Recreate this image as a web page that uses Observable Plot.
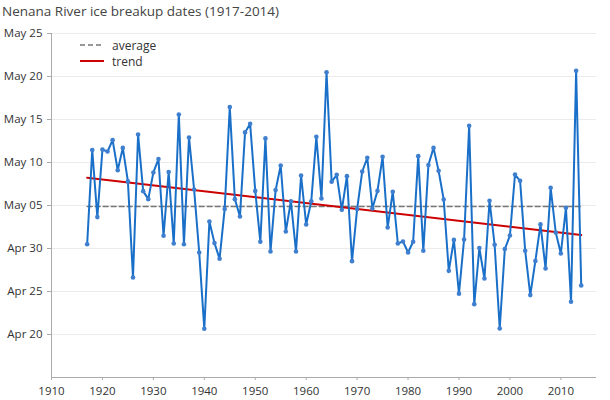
<!DOCTYPE html>
<html>
<head>
<meta charset="utf-8">
<script src="https://cdn.jsdelivr.net/npm/d3@7"></script>
<script src="https://cdn.jsdelivr.net/npm/@observablehq/plot@0.6"></script>
<style>
  html, body { margin: 0; padding: 0; background: #fff; }
  #wrap { position: relative; width: 610px; height: 400px; overflow: hidden; font-family: "Open Sans", sans-serif; }
  #title { height: 22px; line-height: 22px; padding-left: 2px; font-size: 13.5px; color: #444; white-space: nowrap; }
  #legend { position: absolute; left: 80px; top: 37px; font-size: 12px; color: #333; }
  #legend .row { display: flex; align-items: center; height: 16px; }
  #legend svg { margin-right: 8px; }
</style>
</head>
<body>
<div id="wrap">
  <div id="title">Nenana River ice breakup dates (1917-2014)</div>
  <div id="chart"></div>
  <div id="legend">
    <div class="row"><svg width="24" height="10"><line x1="0" x2="24" y1="5" y2="5" stroke="#777" stroke-width="1.5" stroke-dasharray="5,3"/></svg>average</div>
    <div class="row"><svg width="24" height="10"><line x1="0" x2="24" y1="5" y2="5" stroke="#cc0000" stroke-width="2"/></svg>trend</div>
  </div>
</div>
<script>
// Years of record
const years = d3.range(1917, 2015);
// Breakup time as days after April 30, 00:00 (negative = April)
const breakupDays = [
  0.5, 11.44, 3.65, 11.5, 11.28, 12.6, 9.1, 11.7, 7.8, -3.37,      // 1917-1926
  13.26, 6.67, 5.74, 8.84, 10.4, 1.48, 8.9, 0.58, 15.58, 0.5,      // 1927-1936
  12.9, 6.86, -0.46, -9.34, 3.14, 0.63, -1.2, 4.6, 16.44, 5.74,    // 1937-1946
  3.72, 13.5, 14.5, 6.7, 0.78, 12.8, -0.35, 6.79, 9.65, 1.98,      // 1947-1956
  5.5, -0.35, 8.49, 2.79, 5.5, 12.99, 5.81, 20.5, 7.76, 8.57,      // 1957-1966
  4.5, 8.41, -1.47, 4.58, 8.94, 10.55, 4.65, 6.7, 10.66, 2.44,     // 1967-1976
  6.6, 0.58, 0.82, -0.46, 0.78, 10.74, -0.27, 9.7, 11.7, 9.03,     // 1977-1986
  5.7, -2.6, 1.0, -5.25, 1.05, 14.27, -6.47, 0.05, -3.49, 5.55,    // 1987-1996
  0.43, -9.3, -0.07, 1.51, 8.6, 7.87, -0.27, -5.42, -1.45, 2.8,    // 1997-2006
  -2.33, 7.06, 1.86, -0.58, 4.73, -6.2, 20.66, -4.3                // 2007-2014
];
// Tick values
const yTicks = [-10, -5, 0, 5, 10, 15, 20, 25];
const xTicks = d3.range(1910, 2011, 10);

const data = years.map((year, i) => ({year, day: breakupDays[i]}));
const avg = d3.mean(breakupDays);
const base = Date.UTC(2000, 3, 30);
const fmt = d3.utcFormat("%b %d");
const dayLabel = d => fmt(new Date(base + d * 864e5));

const chart = Plot.plot({
  width: 610,
  height: 378,
  marginTop: 11,
  marginBottom: 23,
  marginLeft: 51,
  marginRight: 14,
  style: {fontFamily: "Open Sans, sans-serif", fontSize: "11.5px", color: "#333", background: "#fff"},
  x: {domain: [1910, 2017]},
  y: {domain: [-15, 25]},
  marks: [
    Plot.gridY(yTicks, {stroke: "#ebebeb", strokeOpacity: 1}),
    Plot.ruleX([1910], {stroke: "#aaa"}),
    Plot.ruleY([-15], {stroke: "#aaa"}),
    Plot.axisY({ticks: yTicks, tickFormat: dayLabel, tickSize: 4, stroke: "#aaa", label: null}),
    Plot.axisX({ticks: xTicks, tickFormat: d => String(d), tickSize: 3, stroke: "#aaa", label: null}),
    Plot.line(data, {x: "year", y: () => avg, stroke: "#777", strokeWidth: 1.5, strokeDasharray: "5,3"}),
    Plot.linearRegressionY(data, {x: "year", y: "day", stroke: "#cc0000", strokeWidth: 2, ci: 0}),
    Plot.line(data, {x: "year", y: "day", stroke: "#1a70c8", strokeWidth: 2}),
    Plot.dot(data, {x: "year", y: "day", r: 2.3, fill: "#3f7fcf", stroke: "none"})
  ]
});
document.getElementById("chart").appendChild(chart);
</script>
</body>
</html>
